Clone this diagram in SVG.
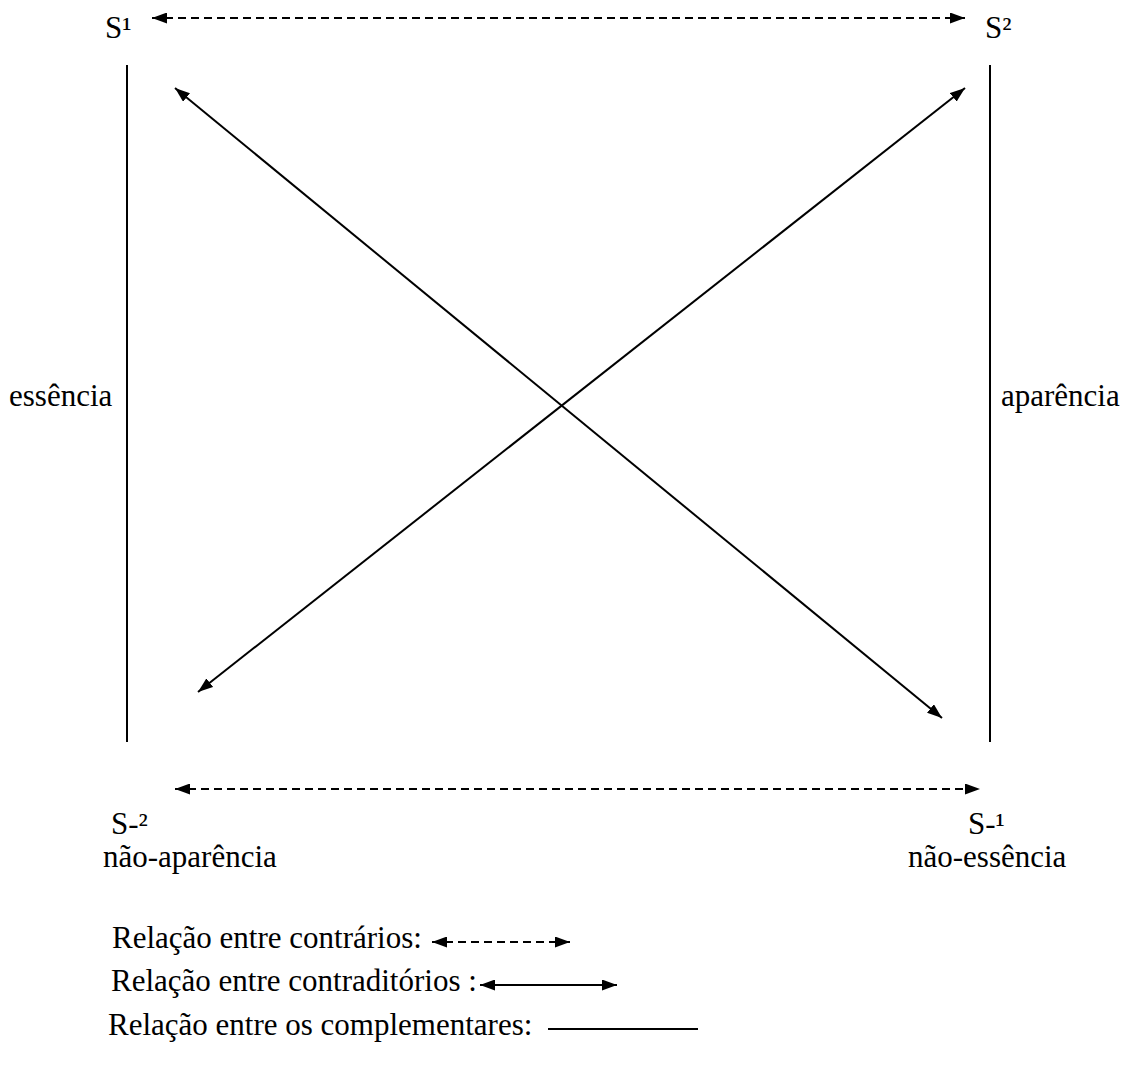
<svg xmlns="http://www.w3.org/2000/svg" width="1126" height="1090" viewBox="0 0 1126 1090">
<defs>
<marker id="ah" viewBox="0 0 15 11" refX="15" refY="5.5" markerWidth="15" markerHeight="11" markerUnits="userSpaceOnUse" orient="auto-start-reverse">
<path d="M0,0 L15,5.5 L0,11 Z" fill="#000"/>
</marker>
</defs>
<style>
text{font-family:"Liberation Serif","Times New Roman",serif;font-size:31px;fill:#000}
.ln{stroke:#000;stroke-width:2;fill:none}
.d{stroke-dasharray:8,5}
.arr{marker-start:url(#ah);marker-end:url(#ah)}
</style>
<rect width="1126" height="1090" fill="#fff"/>
<g id="connectors">
<line class="ln d arr" x1="152" y1="18" x2="965" y2="18"/>
<line class="ln d arr" x1="175" y1="789" x2="980" y2="789"/>
<line class="ln" x1="127" y1="65" x2="127" y2="742"/>
<line class="ln" x1="990" y1="65" x2="990" y2="742"/>
<line class="ln arr" x1="175" y1="88" x2="942" y2="718"/>
<line class="ln arr" x1="965" y1="88" x2="198" y2="692"/>
</g>
<g id="s1"><text x="105" y="38">S¹</text></g>
<g id="s2"><text x="985" y="38">S²</text></g>
<g id="essencia"><text x="9" y="406">essência</text></g>
<g id="aparencia"><text x="1001" y="406">aparência</text></g>
<g id="sneg2"><text x="111" y="834">S-²</text><text x="103" y="867">não-aparência</text></g>
<g id="sneg1"><text x="968" y="834">S-¹</text><text x="908" y="867">não-essência</text></g>
<g id="legend">
<text x="112" y="948">Relação entre contrários:</text>
<line class="ln d arr" x1="432" y1="942" x2="570" y2="942"/>
<text x="111" y="991">Relação entre contraditórios :</text>
<line class="ln arr" x1="480" y1="985" x2="617" y2="985"/>
<text x="108" y="1035">Relação entre os complementares:</text>
<line class="ln" x1="548" y1="1029" x2="698" y2="1029"/>
</g>
</svg>
